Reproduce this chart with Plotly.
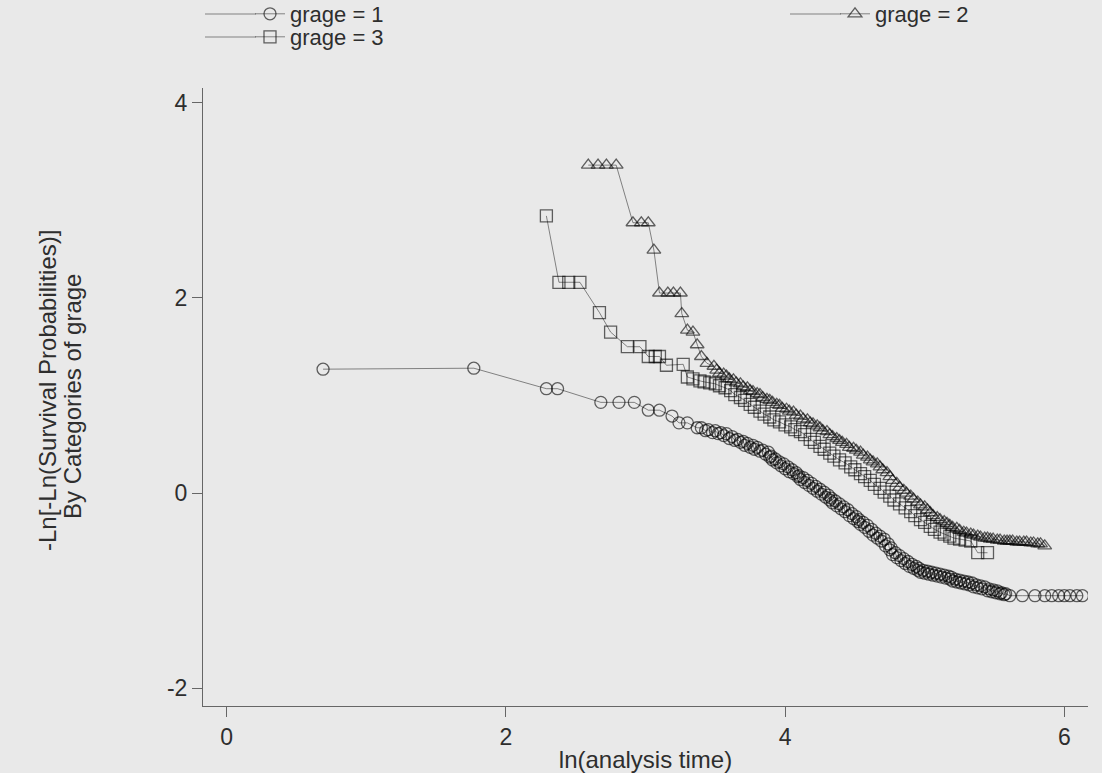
import plotly.graph_objects as go

# ---------------- data ----------------
series_names = ["grage = 1", "grage = 2", "grage = 3"]

g1_x = [0.69, 1.77, 2.29, 2.37, 2.68, 2.81, 2.92, 3.02, 3.10, 3.19, 3.24, 3.30,
        3.37, 3.40, 3.43, 3.45, 3.48, 3.50, 3.52, 3.54, 3.56, 3.58, 3.60, 3.62, 3.64,
        3.66, 3.68, 3.70, 3.71, 3.73, 3.75, 3.77, 3.78, 3.80, 3.82, 3.84, 3.86, 3.88,
        3.89, 3.90, 3.91, 3.93, 3.94, 3.96, 3.97, 3.99, 4.00, 4.02, 4.03, 4.05, 4.06,
        4.08, 4.09, 4.10, 4.11, 4.13, 4.14, 4.16, 4.17, 4.19, 4.20, 4.22, 4.23, 4.25,
        4.26, 4.28, 4.29, 4.31, 4.32, 4.33, 4.34, 4.36, 4.37, 4.39, 4.40, 4.42, 4.43,
        4.45, 4.46, 4.48, 4.49, 4.51, 4.52, 4.53, 4.54, 4.56, 4.57, 4.59, 4.60, 4.62,
        4.63, 4.65, 4.66, 4.68, 4.69, 4.71, 4.72, 4.74, 4.75, 4.76, 4.77, 4.79, 4.80,
        4.82, 4.83, 4.85, 4.86, 4.88, 4.89, 4.91, 4.92, 4.94, 4.95, 4.96, 4.97, 4.99,
        5.00, 5.02, 5.03, 5.05, 5.06, 5.08, 5.09, 5.11, 5.12, 5.14, 5.15, 5.17, 5.18,
        5.19, 5.20, 5.22, 5.23, 5.25, 5.26, 5.28, 5.29, 5.31, 5.32, 5.34, 5.35, 5.37,
        5.38, 5.40, 5.41, 5.43, 5.45, 5.46, 5.48, 5.49, 5.51, 5.52, 5.54, 5.55, 5.57,
        5.58, 5.61, 5.70, 5.79, 5.86, 5.91, 5.96, 6.00, 6.04, 6.09, 6.13]
g1_y = [1.27, 1.28, 1.07, 1.07, 0.93, 0.93, 0.93, 0.85, 0.85, 0.79, 0.72, 0.72,
        0.67, 0.67, 0.64, 0.65, 0.62, 0.64, 0.61, 0.62, 0.59, 0.61, 0.56, 0.58, 0.54,
        0.55, 0.52, 0.53, 0.49, 0.51, 0.47, 0.49, 0.45, 0.47, 0.43, 0.44, 0.40, 0.42,
        0.37, 0.38, 0.34, 0.35, 0.31, 0.32, 0.28, 0.30, 0.25, 0.27, 0.22, 0.24, 0.20,
        0.21, 0.17, 0.18, 0.14, 0.16, 0.11, 0.13, 0.08, 0.10, 0.05, 0.07, 0.02, 0.04,
        -0.01, 0.01, -0.04, -0.02, -0.07, -0.05, -0.10, -0.08, -0.13, -0.11, -0.16,
        -0.14, -0.19, -0.17, -0.23, -0.21, -0.26, -0.24, -0.29, -0.27, -0.32, -0.30,
        -0.35, -0.33, -0.39, -0.37, -0.43, -0.41, -0.46, -0.44, -0.49, -0.47, -0.54,
        -0.52, -0.58, -0.56, -0.63, -0.61, -0.66, -0.64, -0.69, -0.67, -0.72, -0.70,
        -0.75, -0.73, -0.77, -0.75, -0.79, -0.77, -0.81, -0.79, -0.82, -0.80, -0.83,
        -0.81, -0.84, -0.82, -0.85, -0.83, -0.86, -0.84, -0.87, -0.85, -0.88, -0.86,
        -0.90, -0.88, -0.91, -0.89, -0.92, -0.90, -0.93, -0.91, -0.94, -0.92, -0.96,
        -0.94, -0.97, -0.95, -0.98, -0.96, -1.00, -0.98, -1.01, -0.99, -1.02, -1.00,
        -1.03, -1.02, -1.04, -1.03, -1.05, -1.05, -1.05, -1.05, -1.05, -1.05, -1.05,
        -1.05, -1.05, -1.05]

g2_x = [2.59, 2.66, 2.72, 2.79, 2.91, 2.97, 3.02, 3.06, 3.10, 3.16, 3.20, 3.25,
        3.26, 3.30, 3.34, 3.37, 3.40, 3.44, 3.49, 3.51, 3.53, 3.56, 3.58, 3.60, 3.63,
        3.65, 3.68, 3.70, 3.73, 3.75, 3.77, 3.80, 3.82, 3.84, 3.87, 3.89, 3.91, 3.94,
        3.96, 3.98, 4.01, 4.03, 4.06, 4.08, 4.11, 4.13, 4.16, 4.18, 4.20, 4.23, 4.25,
        4.27, 4.30, 4.32, 4.34, 4.37, 4.39, 4.41, 4.44, 4.46, 4.49, 4.51, 4.54, 4.56,
        4.59, 4.61, 4.63, 4.66, 4.68, 4.70, 4.73, 4.75, 4.77, 4.80, 4.82, 4.85, 4.87,
        4.90, 4.92, 4.95, 4.97, 5.00, 5.02, 5.04, 5.06, 5.09, 5.11, 5.14, 5.16, 5.18,
        5.20, 5.23, 5.25, 5.28, 5.30, 5.33, 5.35, 5.38, 5.40, 5.43, 5.45, 5.47, 5.49,
        5.52, 5.54, 5.57, 5.59, 5.61, 5.63, 5.66, 5.68, 5.71, 5.73, 5.76, 5.78, 5.81,
        5.83, 5.86]
g2_y = [3.36, 3.36, 3.36, 3.36, 2.77, 2.77, 2.77, 2.49, 2.05, 2.05, 2.05, 2.05,
        1.84, 1.67, 1.65, 1.52, 1.40, 1.33, 1.30, 1.26, 1.23, 1.22, 1.20, 1.17, 1.16,
        1.13, 1.12, 1.09, 1.08, 1.05, 1.04, 1.02, 1.01, 0.98, 0.96, 0.95, 0.93, 0.91,
        0.90, 0.87, 0.86, 0.84, 0.83, 0.80, 0.79, 0.76, 0.75, 0.72, 0.71, 0.69, 0.67,
        0.64, 0.63, 0.60, 0.58, 0.56, 0.54, 0.52, 0.50, 0.47, 0.46, 0.44, 0.42, 0.39,
        0.37, 0.34, 0.32, 0.30, 0.27, 0.24, 0.21, 0.17, 0.13, 0.10, 0.06, 0.03, 0.00,
        -0.03, -0.06, -0.09, -0.12, -0.14, -0.17, -0.20, -0.23, -0.25, -0.27, -0.29,
        -0.31, -0.33, -0.35, -0.36, -0.38, -0.40, -0.41, -0.42, -0.43, -0.44, -0.45,
        -0.46, -0.46, -0.47, -0.47, -0.48, -0.48, -0.49, -0.49, -0.49, -0.49, -0.50,
        -0.50, -0.50, -0.50, -0.51, -0.51, -0.52, -0.52, -0.54]

g3_x = [2.29, 2.38, 2.45, 2.53, 2.67, 2.75, 2.87, 2.96, 3.02, 3.07, 3.10, 3.15,
        3.27, 3.30, 3.34, 3.39, 3.42, 3.46, 3.50, 3.53, 3.57, 3.61, 3.64, 3.68, 3.71,
        3.75, 3.78, 3.82, 3.85, 3.89, 3.92, 3.96, 4.00, 4.04, 4.07, 4.11, 4.14, 4.18,
        4.21, 4.25, 4.28, 4.32, 4.35, 4.39, 4.43, 4.47, 4.50, 4.54, 4.57, 4.61, 4.64,
        4.68, 4.71, 4.75, 4.78, 4.82, 4.86, 4.90, 4.93, 4.97, 5.00, 5.04, 5.07, 5.11,
        5.14, 5.18, 5.21, 5.25, 5.29, 5.33, 5.38, 5.45]
g3_y = [2.84, 2.16, 2.16, 2.16, 1.85, 1.65, 1.50, 1.50, 1.40, 1.40, 1.40, 1.31,
        1.32, 1.19, 1.17, 1.15, 1.14, 1.13, 1.12, 1.10, 1.08, 1.05, 1.01, 0.98, 0.95,
        0.91, 0.88, 0.84, 0.81, 0.78, 0.75, 0.73, 0.70, 0.68, 0.65, 0.63, 0.60, 0.55,
        0.52, 0.48, 0.45, 0.41, 0.38, 0.34, 0.31, 0.27, 0.24, 0.20, 0.17, 0.13, 0.09,
        0.05, 0.01, -0.03, -0.07, -0.11, -0.15, -0.19, -0.23, -0.27, -0.30, -0.34,
        -0.37, -0.40, -0.42, -0.44, -0.46, -0.47, -0.48, -0.49, -0.61, -0.61]

x_ticks = [0, 2, 4, 6]
y_ticks = [-2, 0, 2, 4]
x_title = "ln(analysis time)"
y_title_lines = ["-Ln[-Ln(Survival Probabilities)]", "By Categories of grage"]

# ---------------- styling ----------------
FONT = "Liberation Sans, Arial, sans-serif"
FS = 23
TXT = "#2e2e2e"
MK = "rgba(0,0,0,0.6)"
LN = "rgba(0,0,0,0.45)"
BG = "#e9e9e9"
W, H = 1102, 773
L, R, T, B = 203, 14, 88, 67
PW, PH = W - L - R, H - T - B

fig = go.Figure()
specs = [
    (g1_x, g1_y, "circle-open", series_names[0], "legend"),
    (g2_x, g2_y, "triangle-up-open", series_names[1], "legend2"),
    (g3_x, g3_y, "square-open", series_names[2], "legend3"),
]
for xs, ys, sym, name, lg in specs:
    fig.add_trace(go.Scatter(
        x=xs, y=ys, mode="lines+markers", name=name, legend=lg,
        line=dict(color=LN, width=1),
        marker=dict(symbol=sym, size=12, color=MK, line=dict(color=MK, width=1.3)),
    ))

# legend positions (pixel left edge of key, pixel row centre)
leg_pos = {"legend": (250, 14), "legend2": (835, 14), "legend3": (250, 37)}

def legend_at(px_x, px_y):
    return dict(
        x=px_x / W, y=1 - px_y / H, xref="container", yref="container",
        xanchor="left", yanchor="middle", bgcolor="rgba(0,0,0,0)",
        font=dict(family=FONT, size=22, color=TXT),
    )

fig.update_layout(
    width=W, height=H,
    margin=dict(l=L, r=R, t=T, b=B, autoexpand=False),
    paper_bgcolor=BG, plot_bgcolor=BG,
    font=dict(family=FONT, size=FS, color=TXT),
    showlegend=True,
    **{k: legend_at(*v) for k, v in leg_pos.items()},
)
# lengthen the legend key lines to the left (Stata-style long keys)
for k, (px, py) in leg_pos.items():
    fig.add_shape(
        type="line", xref="paper", yref="paper",
        x0=(px - 45 - L) / PW, x1=(px + 6 - L) / PW,
        y0=(H - B - py) / PH, y1=(H - B - py) / PH,
        line=dict(color=LN, width=1),
    )

fig.update_xaxes(
    range=[-0.17, 6.17], tickvals=x_ticks, ticktext=[str(v) for v in x_ticks],
    showgrid=False, zeroline=False, showline=True, linecolor="#666", linewidth=1,
    ticks="outside", ticklen=10, tickcolor="#666",
    tickfont=dict(size=FS, color=TXT),
    title=dict(text=x_title, font=dict(size=24, color=TXT), standoff=2),
)
fig.update_yaxes(
    range=[-2.18, 4.15], tickvals=y_ticks, ticktext=[str(v) for v in y_ticks],
    showgrid=False, zeroline=False, showline=True, linecolor="#666", linewidth=1,
    ticks="outside", ticklen=10, tickcolor="#666",
    tickfont=dict(size=FS, color=TXT),
)
# two-line y-axis title, rotated
for i, (txt, cx) in enumerate(zip(y_title_lines, [47, 72])):
    fig.add_annotation(
        text=txt, textangle=-90, showarrow=False,
        xref="paper", yref="paper", x=0, y=0.5, xshift=cx - L,
        xanchor="center", yanchor="middle",
        yshift=6 if i == 0 else 0,
        font=dict(family=FONT, size=24, color=TXT),
    )

fig.write_html(
    "out.html",
    config={"displayModeBar": False},
    post_script="document.body.style.margin='0';document.body.style.background='%s';" % BG,
)
